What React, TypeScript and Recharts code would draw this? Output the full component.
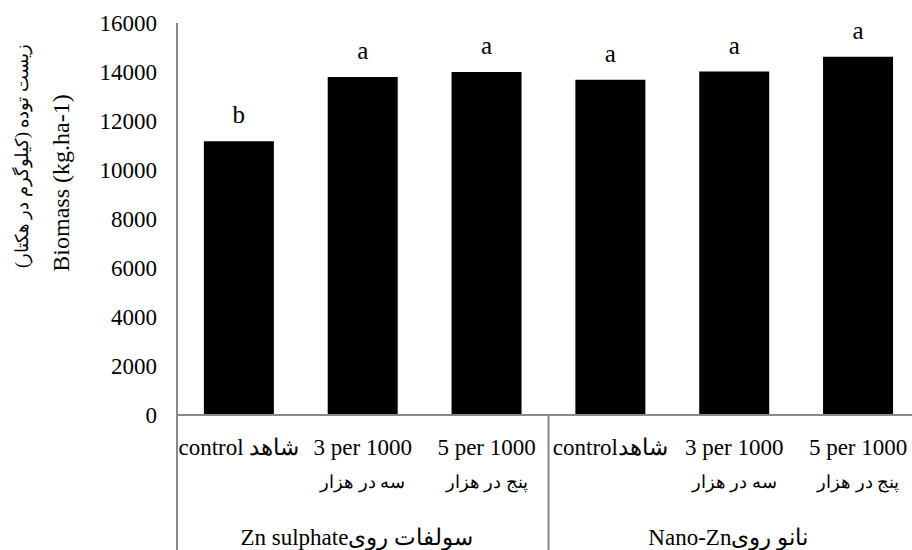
import React from "react";
import { BarChart, Bar, XAxis, YAxis, LabelList, Label } from "recharts";

const categories = ["control شاهد", "3 per 1000", "5 per 1000", "controlشاهد", "3 per 1000", "5 per 1000"];
const subLabels = ["", "سه در هزار", "پنج در هزار", "", "سه در هزار", "پنج در هزار"];
const groups = ["Zn sulphateسولفات روی", "Zn sulphateسولفات روی", "Zn sulphateسولفات روی", "Nano-Znنانو روی", "Nano-Znنانو روی", "Nano-Znنانو روی"];
const biomass = [11170, 13800, 14000, 13680, 14020, 14620];
const letters = ["b", "a", "a", "a", "a", "a"];
const yTicks = [0, 2000, 4000, 6000, 8000, 10000, 12000, 14000, 16000];

const data = categories.map((c, i) => ({
  key: `c${i}`,
  name: c,
  sub: subLabels[i],
  group: groups[i],
  value: biomass[i],
  letter: letters[i],
}));

const W = 940;
const H = 560;
const M = { top: 23, right: 20, left: 0, bottom: 0 };
const Y_W = 177;
const PLOT_W = W - M.left - M.right - Y_W;
const FONT = "'Liberation Serif', 'Times New Roman', serif";
const GRID = "#898989";

function CatTick({ x, y, index }: any) {
  const d = data[index];
  if (!d) return null;
  return (
    <g>
      <text x={x} y={y + 40} textAnchor="middle" fontSize={23} fontFamily={FONT} fill="#000">
        {d.name}
      </text>
      {d.sub && (
        <text x={x} y={y + 73} textAnchor="middle" fontSize={18} fontFamily={FONT} fill="#000">
          {d.sub}
        </text>
      )}
    </g>
  );
}

function GroupTick({ x, y, index, payload }: any) {
  const half = PLOT_W / 4;
  return (
    <g>
      <line x1={x - half} x2={x - half} y1={y - 85} y2={y + 60} stroke={GRID} strokeWidth={2} />
      {index === 1 && (
        <line x1={x + half} x2={x + half} y1={y - 85} y2={y + 60} stroke={GRID} strokeWidth={2} />
      )}
      <text x={x - 6} y={y + 45} textAnchor="middle" fontSize={23} fontFamily={FONT} fill="#000">
        {payload.value}
      </text>
    </g>
  );
}

function YTitle({ viewBox }: any) {
  const top = viewBox.y;
  return (
    <g>
      <text
        transform={`translate(61, ${top + 160}) rotate(-90)`}
        textAnchor="middle"
        dominantBaseline="central"
        fontSize={24}
        fontFamily={FONT}
        fill="#000"
      >
        Biomass (kg.ha-1)
      </text>
      <text
        transform={`translate(22, ${top + 133}) rotate(-90)`}
        textAnchor="middle"
        dominantBaseline="central"
        direction="rtl"
        fontSize={18}
        fontFamily={FONT}
        fill="#000"
      >
        زیست توده (کیلوگرم در هکتار)
      </text>
    </g>
  );
}

export default function App() {
  return (
    <div style={{ position: "absolute", left: 0, top: 0, width: 912, height: 550, overflow: "hidden", background: "#fff" }}>
      <BarChart width={W} height={H} data={data} margin={M} barCategoryGap="21.7%">
        <XAxis
          dataKey="key"
          height={85}
          tickSize={0}
          tickMargin={0}
          tickLine={false}
          axisLine={{ stroke: GRID, strokeWidth: 2 }}
          tick={<CatTick />}
          interval={0}
        />
        <XAxis
          xAxisId="grp"
          dataKey="group"
          allowDuplicatedCategory={false}
          height={60}
          tickSize={0}
          tickMargin={0}
          tickLine={false}
          axisLine={false}
          tick={<GroupTick />}
          interval={0}
        />
        <YAxis
          width={Y_W}
          domain={[0, 16000]}
          ticks={yTicks}
          tickSize={0}
          tickMargin={20}
          tickLine={false}
          axisLine={{ stroke: GRID, strokeWidth: 2 }}
          tick={{ fill: "#000", fontSize: 23, fontFamily: FONT }}
        >
          <Label content={<YTitle />} />
        </YAxis>
        <Bar dataKey="value" fill="#000" isAnimationActive={false}>
          <LabelList dataKey="letter" position="top" offset={18} fill="#000" fontSize={25} fontFamily={FONT} />
        </Bar>
      </BarChart>
    </div>
  );
}
